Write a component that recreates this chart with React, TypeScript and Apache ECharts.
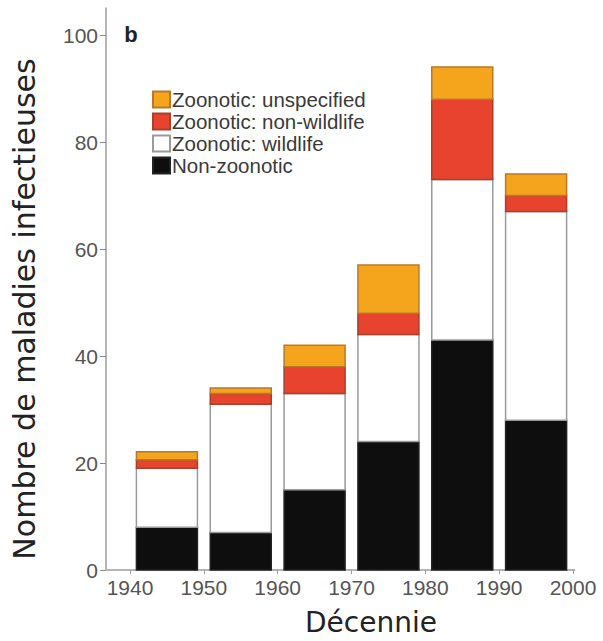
import React, { useEffect, useRef } from "react";
import * as echarts from "echarts";

const decadeStarts = [1940, 1950, 1960, 1970, 1980, 1990];
const xTickLabels = [1940, 1950, 1960, 1970, 1980, 1990, 2000];
const yTickLabels = [0, 20, 40, 60, 80, 100];

const nonZoonotic = [8, 7, 15, 24, 43, 28];
const zoonoticWildlife = [11, 24, 18, 20, 30, 39];
const zoonoticNonWildlife = [1.6, 2, 5, 4, 15, 3];
const zoonoticUnspecified = [1.5, 1, 4, 9, 6, 4];

const seriesNames = [
  "Zoonotic: unspecified",
  "Zoonotic: non-wildlife",
  "Zoonotic: wildlife",
  "Non-zoonotic",
];

export default function App() {
  const ref = useRef<HTMLDivElement>(null);
  useEffect(() => {
    if (!ref.current) return;
    const chart = echarts.init(ref.current, null, { renderer: "svg" });
    const stackOrder = [nonZoonotic, zoonoticWildlife, zoonoticNonWildlife, zoonoticUnspecified];
    const names = [seriesNames[3], seriesNames[2], seriesNames[1], seriesNames[0]];
    const fills = ["#0e0e0e", "#ffffff", "#e8432f", "#f4a51c"];
    const strokes = ["#222222", "#9a9a9a", "#a8402a", "#b87a2a"];
    const base = decadeStarts.map(() => 0);
    const series = stackOrder.map((vals, k) => {
      const data = decadeStarts.map((d, i) => {
        const lo = base[i];
        const hi = lo + vals[i];
        base[i] = hi;
        return [d + 5, lo, hi];
      });
      return {
        name: names[k],
        type: "custom",
        data,
        encode: { x: 0, y: [1, 2] },
        itemStyle: { color: fills[k], borderColor: strokes[k], borderWidth: 1.5 },
        renderItem: (params: any, api: any) => {
          const x = api.value(0);
          const p0 = api.coord([x, api.value(1)]);
          const p1 = api.coord([x, api.value(2)]);
          return {
            type: "rect",
            shape: { x: p0[0] - 30.5, y: p1[1], width: 61, height: p0[1] - p1[1] },
            style: { fill: fills[k], stroke: strokes[k], lineWidth: 1.5 },
          };
        },
      };
    });
    chart.setOption({
      animation: false,
      backgroundColor: "#ffffff",
      grid: { left: 106, right: 28.5, top: 8.25, bottom: 71, containLabel: false },
      legend: {
        orient: "vertical",
        left: 147,
        top: 84,
        icon: "rect",
        itemWidth: 17,
        itemHeight: 16,
        itemGap: 1,
        data: seriesNames,
        textStyle: {
          fontFamily: "Liberation Sans",
          fontSize: 20.5,
          color: "#3a3a3a",
          padding: [0, 0, 0, -3],
          lineHeight: 21,
        },
      },
      xAxis: {
        type: "value",
        min: 1936.75,
        max: 2000.2,
        splitLine: { show: false },
        axisLine: { show: true, lineStyle: { color: "#b5b5b5", width: 2 } },
        axisTick: {
          show: true,
          length: 4,
          customValues: xTickLabels,
          lineStyle: { color: "#999", width: 1 },
        },
        axisLabel: {
          customValues: xTickLabels,
          fontFamily: "Liberation Sans",
          fontSize: 21,
          color: "#555",
          margin: 7,
          formatter: (v: number) => String(v),
        },
      },
      yAxis: {
        type: "value",
        min: 0,
        max: 105,
        splitLine: { show: false },
        axisLine: { show: true, lineStyle: { color: "#b5b5b5", width: 2 } },
        axisTick: {
          show: true,
          length: 6,
          customValues: yTickLabels,
          lineStyle: { color: "#888", width: 1 },
        },
        axisLabel: {
          customValues: yTickLabels,
          fontFamily: "Liberation Sans",
          fontSize: 21,
          color: "#555",
          margin: 8,
        },
      },
      graphic: [
        {
          type: "text",
          x: 131,
          y: 34,
          style: {
            text: "b",
            font: "bold 22px 'Liberation Sans'",
            fill: "#222",
            align: "center",
            verticalAlign: "middle",
          },
        },
        {
          type: "text",
          x: 371,
          y: 622,
          style: {
            text: "Décennie",
            font: "28px 'DejaVu Sans'",
            fill: "#222",
            align: "center",
            verticalAlign: "middle",
          },
        },
        {
          type: "text",
          x: 24,
          y: 309,
          rotation: Math.PI / 2,
          style: {
            text: "Nombre de maladies infectieuses",
            font: "30px 'DejaVu Sans'",
            fill: "#222",
            align: "center",
            verticalAlign: "middle",
          },
        },
      ],
      series,
    });
    return () => chart.dispose();
  }, []);
  return (
    <div
      ref={ref}
      style={{ position: "fixed", left: 0, top: 0, width: 603, height: 641 }}
    />
  );
}
